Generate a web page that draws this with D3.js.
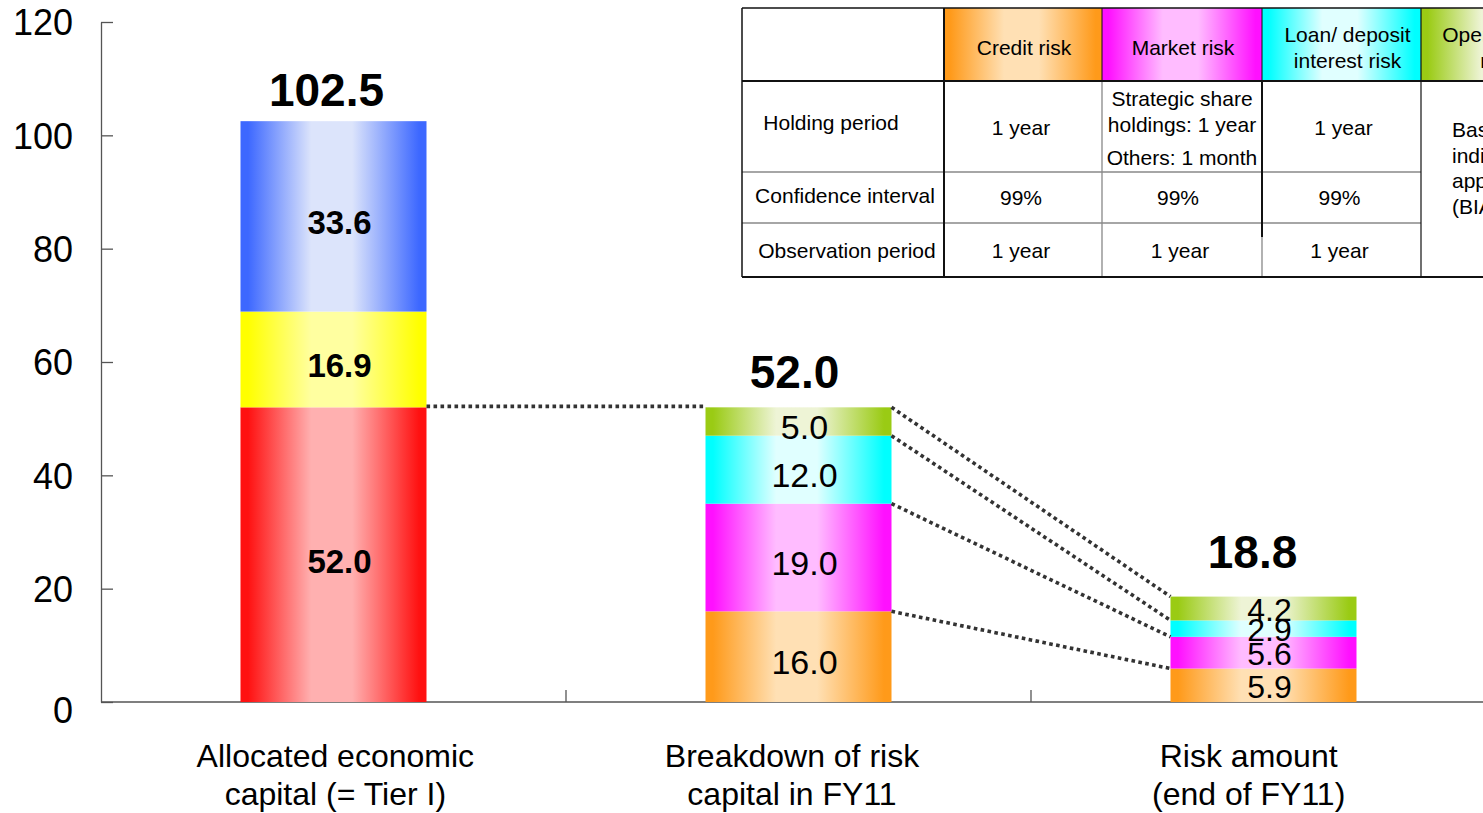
<!DOCTYPE html>
<html>
<head>
<meta charset="utf-8">
<script src="https://cdn.jsdelivr.net/npm/d3@7"></script>
<style>
  html, body { margin: 0; padding: 0; background: #fff; }
  svg { display: block; font-family: "Liberation Sans", Arial, sans-serif; }
</style>
</head>
<body>
<svg id="chart" width="1483" height="813"></svg>
<script>
// ---- data ----
const categories = [
  ["Allocated economic", "capital (= Tier I)"],
  ["Breakdown of risk", "capital in FY11"],
  ["Risk amount", "(end of FY11)"]
];
const yTicks = [0, 20, 40, 60, 80, 100, 120];

// Tier I split, bottom to top
const capitalParts = [52.0, 16.9, 33.6];
// risk types, bottom to top: credit, market, loan/deposit interest, operational
const riskCapital = [16.0, 19.0, 12.0, 5.0];
const riskAmount = [5.9, 5.6, 2.9, 4.2];
const totals = [102.5, 52.0, 18.8];

// summary table
const tableHeaders = [["Credit risk"], ["Market risk"], ["Loan/ deposit", "interest risk"], ["Operational", "risk"]];
const tableRowHeads = ["Holding period", "Confidence interval", "Observation period"];
const holdingPeriod = [["1 year"], ["Strategic share", "holdings: 1 year", "Others: 1 month"], ["1 year"]];
const confidenceInterval = ["99%", "99%", "99%"];
const observationPeriod = ["1 year", "1 year", "1 year"];
const operationalMethod = ["Basic", "indicator", "approach", "(BIA)"];

// ---- colours (edge, centre) ----
const capitalColors = [["#ff1111", "#ffb0b0"], ["#ffff00", "#ffffa0"], ["#3d68ff", "#dce4fb"]];
const riskColors = [["#ff9a1a", "#ffe0b4"], ["#ff10ff", "#ffbcff"], ["#00ffff", "#e0ffff"], ["#9acb14", "#eef4d6"]];

const svg = d3.select("#chart");
svg.append("rect").attr("width", 1483).attr("height", 813).attr("fill", "#fff");

const defs = svg.append("defs");
function gradient(id, edge, mid) {
  const g = defs.append("linearGradient").attr("id", id)
    .attr("x1", "0%").attr("x2", "100%").attr("y1", "0%").attr("y2", "0%");
  [[0, edge], [0.04, edge], [0.38, mid], [0.6, mid], [0.96, edge], [1, edge]]
    .forEach(([o, c]) => g.append("stop").attr("offset", o).attr("stop-color", c));
  return `url(#${id})`;
}
const capitalFills = capitalColors.map((c, i) => gradient("cap" + i, c[0], c[1]));
const riskFills = riskColors.map((c, i) => gradient("risk" + i, c[0], c[1]));

// ---- scales ----
const y = d3.scaleLinear().domain([0, 120]).range([702, 22]);
const x = d3.scaleBand().domain(d3.range(categories.length)).range([101, 1496]).padding(0);
// category captions sit on a slightly narrower band
const xLabel = d3.scaleBand().domain(d3.range(categories.length)).range([107, 1477]).padding(0);
const barW = x.bandwidth() * 0.4;
const barX = i => x(i) + (x.bandwidth() - barW) / 2;

// ---- axes ----
const yAxis = d3.axisLeft(y).tickValues(yTicks).tickSize(-12).tickPadding(28).tickSizeOuter(0);
const gy = svg.append("g").attr("transform", "translate(101,0)").call(yAxis);
gy.selectAll("text").attr("font-size", 36).attr("fill", "#000")
  .attr("dy", d => d === 0 ? "0.58em" : "0.36em")
  .attr("font-family", "Liberation Sans, Arial, sans-serif");
gy.selectAll("line").attr("stroke", "#555").attr("stroke-width", 1.3);
gy.select(".domain").attr("stroke", "#555").attr("stroke-width", 1.3);

// baseline and category separators
svg.append("line").attr("x1", 101).attr("x2", 1496).attr("y1", y(0)).attr("y2", y(0))
  .attr("stroke", "#555").attr("stroke-width", 1.6);
d3.range(1, categories.length).forEach(i => {
  svg.append("line").attr("x1", x(i)).attr("x2", x(i)).attr("y1", y(0)).attr("y2", y(0) - 12)
    .attr("stroke", "#555").attr("stroke-width", 1.3);
});

// category labels
categories.forEach((lines, i) => {
  const cx = xLabel(i) + xLabel.bandwidth() / 2;
  const t = svg.append("text").attr("x", cx).attr("y", 767)
    .attr("text-anchor", "middle").attr("font-size", 32).attr("fill", "#000");
  lines.forEach((l, j) => t.append("tspan").attr("x", cx).attr("dy", j === 0 ? 0 : 38).text(l));
});

// ---- stacked bars ----
function stack(values) {
  let acc = 0;
  return values.map(v => { const s = { y0: acc, y1: acc + v, v }; acc += v; return s; });
}
const bars = [
  { segs: stack(capitalParts), fills: capitalFills, size: 33, weight: "bold", shift: 6 },
  { segs: stack(riskCapital), fills: riskFills, size: 34, weight: "normal", shift: 5 },
  { segs: stack(riskAmount), fills: riskFills, size: 32, weight: "normal", shift: 1 }
];

bars.forEach((b, i) => {
  const g = svg.append("g");
  g.selectAll("rect").data(b.segs).join("rect")
    .attr("x", barX(i)).attr("width", barW)
    .attr("y", d => y(d.y1)).attr("height", d => y(d.y0) - y(d.y1))
    .attr("fill", (d, k) => b.fills[k]);
});

// connector lines (dotted)
const dotted = sel => sel.attr("stroke", "#333").attr("stroke-width", 3.6)
  .attr("stroke-dasharray", "3.6,3.4").attr("fill", "none");
svg.append("line").attr("x1", barX(0) + barW).attr("x2", barX(1))
  .attr("y1", y(capitalParts[0]) - 1).attr("y2", y(capitalParts[0]) - 1).call(dotted);
const seg2 = bars[1].segs, seg3 = bars[2].segs;
seg2.forEach((s, k) => {
  svg.append("line")
    .attr("x1", barX(1) + barW).attr("y1", y(s.y1))
    .attr("x2", barX(2)).attr("y2", y(seg3[k].y1))
    .call(dotted);
});

// segment value labels
bars.forEach((b, i) => {
  b.segs.forEach(s => {
    svg.append("text")
      .attr("x", barX(i) + barW / 2 + 6)
      .attr("y", (y(s.y0) + y(s.y1)) / 2 + b.shift)
      .attr("dy", "0.36em")
      .attr("text-anchor", "middle")
      .attr("font-size", b.size).attr("font-weight", b.weight).attr("fill", "#000")
      .text(d3.format(".1f")(s.v));
  });
});

// totals
const totalDx = [-7, -4, -11], totalDy = [-15, -19, -27];
totals.forEach((t, i) => {
  svg.append("text")
    .attr("x", barX(i) + barW / 2 + totalDx[i]).attr("y", y(t) + totalDy[i])
    .attr("text-anchor", "middle").attr("font-size", 46).attr("font-weight", "bold")
    .attr("fill", "#000").text(d3.format(".1f")(t));
});

// ---- summary table ----
const colX = [742, 944, 1102, 1262, 1421, 1580];
const rowY = [8, 81, 172, 223, 277];
const tbl = svg.append("g").attr("font-size", 21).attr("fill", "#000");
const colMid = c => (colX[c] + colX[c + 1]) / 2;

tbl.append("rect").attr("x", colX[0]).attr("y", rowY[0])
  .attr("width", colX[5] - colX[0]).attr("height", rowY[1] - rowY[0]).attr("fill", "#fff");
const headerDx = [1, 1, 6, -4];
tableHeaders.forEach((h, k) => {
  tbl.append("rect").attr("x", colX[k + 1]).attr("y", rowY[0])
    .attr("width", colX[k + 2] - colX[k + 1]).attr("height", rowY[1] - rowY[0])
    .attr("fill", riskFills[k]);
  const t = tbl.append("text").attr("text-anchor", "middle");
  const base = h.length === 1 ? 55 : 42;
  const cx = colMid(k + 1) + headerDx[k];
  h.forEach((l, j) => t.append("tspan").attr("x", cx).attr("y", base + j * 26).text(l));
});

// grey inner lines
const grey = sel => sel.attr("stroke", "#888").attr("stroke-width", 1.3);
[rowY[2], rowY[3]].forEach(yy => {
  tbl.append("line").attr("x1", colX[0]).attr("x2", colX[4]).attr("y1", yy).attr("y2", yy).call(grey);
});
[colX[2], colX[3]].forEach(xx => {
  tbl.append("line").attr("x1", xx).attr("x2", xx).attr("y1", rowY[1]).attr("y2", rowY[4]).call(grey);
});
// black structural lines
const black = (sel, w) => sel.attr("stroke", "#111").attr("stroke-width", w);
tbl.append("line").attr("x1", colX[0]).attr("x2", colX[5]).attr("y1", rowY[0]).attr("y2", rowY[0]).call(black, 1.5);
tbl.append("line").attr("x1", colX[0]).attr("x2", colX[5]).attr("y1", rowY[1]).attr("y2", rowY[1]).call(black, 2);
tbl.append("line").attr("x1", colX[0]).attr("x2", colX[5]).attr("y1", rowY[4]).attr("y2", rowY[4]).call(black, 2);
tbl.append("line").attr("x1", colX[0]).attr("x2", colX[0]).attr("y1", rowY[0]).attr("y2", rowY[4]).call(black, 1.5);
tbl.append("line").attr("x1", colX[1]).attr("x2", colX[1]).attr("y1", rowY[0]).attr("y2", rowY[4]).call(black, 2);
tbl.append("line").attr("x1", colX[4]).attr("x2", colX[4]).attr("y1", rowY[0]).attr("y2", rowY[4]).call(black, 1.2);
tbl.append("line").attr("x1", colX[3]).attr("x2", colX[3]).attr("y1", rowY[1]).attr("y2", 237).call(black, 2);
tbl.append("line").attr("x1", colX[2]).attr("x2", colX[2]).attr("y1", rowY[0]).attr("y2", rowY[1]).call(black, 1);
tbl.append("line").attr("x1", colX[3]).attr("x2", colX[3]).attr("y1", rowY[0]).attr("y2", rowY[1]).call(black, 1);

// row heads
const rowBase = [130, 203, 258];
tableRowHeads.forEach((r, j) => {
  tbl.append("text").attr("x", colMid(0) + [-12, 2, 4][j]).attr("y", rowBase[j])
    .attr("text-anchor", "middle").text(r);
});
// holding period
holdingPeriod.forEach((lines, k) => {
  if (lines.length === 1) {
    tbl.append("text").attr("x", colMid(k + 1) + (k === 2 ? 2 : -2)).attr("y", 135).attr("text-anchor", "middle").text(lines[0]);
  } else {
    const ys = [106, 132, 165];
    lines.forEach((l, j) => tbl.append("text").attr("x", colMid(k + 1)).attr("y", ys[j])
      .attr("text-anchor", "middle").text(l));
  }
});
confidenceInterval.forEach((v, k) => {
  tbl.append("text").attr("x", colMid(k + 1) + (k === 1 ? -4 : -2)).attr("y", 205).attr("text-anchor", "middle").text(v);
});
observationPeriod.forEach((v, k) => {
  tbl.append("text").attr("x", colMid(k + 1) - 2).attr("y", 258).attr("text-anchor", "middle").text(v);
});
operationalMethod.forEach((l, j) => {
  tbl.append("text").attr("x", 1452).attr("y", 137 + j * 25.5).text(l);
});
</script>
</body>
</html>
